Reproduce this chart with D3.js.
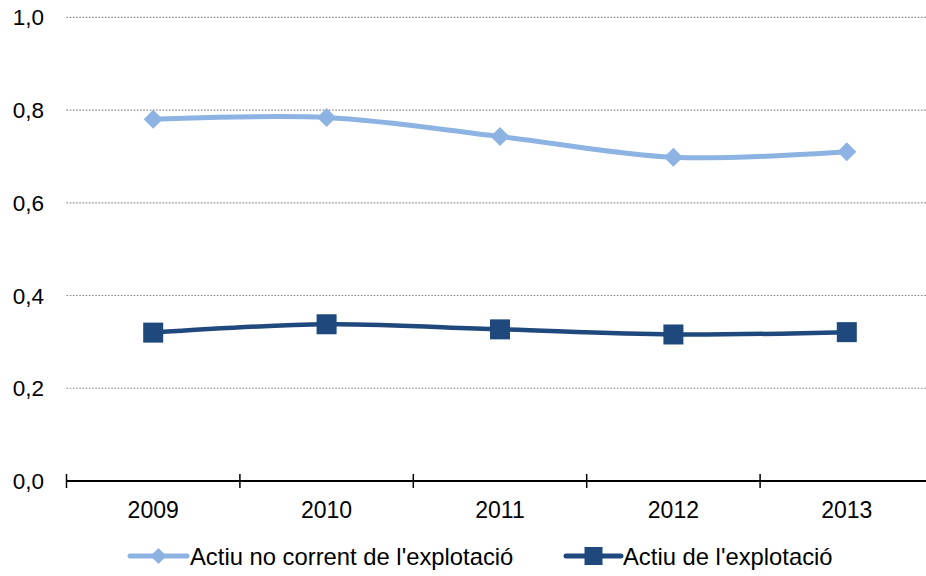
<!DOCTYPE html>
<html>
<head>
<meta charset="utf-8">
<script src="https://cdn.jsdelivr.net/npm/d3@7"></script>
<style>
  html, body { margin: 0; padding: 0; background: #fff; }
  svg { display: block; font-family: "Liberation Sans", Arial, sans-serif; }
</style>
</head>
<body>
<svg id="chart" width="926" height="576"></svg>
<script>
const categories = ["2009", "2010", "2011", "2012", "2013"];
const seriesNames = ["Actiu no corrent de l'explotació", "Actiu de l'explotació"];
const actiuNoCorrent = [0.780, 0.784, 0.743, 0.698, 0.710];
const actiuExplotacio = [0.320, 0.338, 0.327, 0.316, 0.321];
const yTicks = [0, 0.2, 0.4, 0.6, 0.8, 1.0];
const colors = ["#8DB3E2", "#1F497D"];

const svg = d3.select("#chart");
const plotLeft = 66.5, plotRight = 933.5, plotTop = 17.3, plotBottom = 481;

const x = d3.scaleBand().domain(categories).range([plotLeft, plotRight]).paddingInner(0).paddingOuter(0);
const y = d3.scaleLinear().domain([0, 1]).range([plotBottom, plotTop]);
const fmt = v => d3.format(".1f")(v).replace(".", ",");

// gridlines
svg.append("g").selectAll("line").data(yTicks.filter(d => d > 0)).join("line")
  .attr("x1", plotLeft).attr("x2", 926)
  .attr("y1", d => y(d)).attr("y2", d => y(d))
  .attr("stroke", "#8a8a8a").attr("stroke-width", 1.2)
  .attr("stroke-dasharray", "1.6,1.6");

// y labels
svg.append("g").selectAll("text").data(yTicks).join("text")
  .attr("x", 44).attr("y", d => y(d))
  .attr("dy", "0.36em")
  .attr("text-anchor", "end")
  .attr("font-size", 22.5).attr("fill", "#000")
  .text(fmt);

// x axis
const xAxis = svg.append("g").attr("transform", `translate(0,${plotBottom})`);
xAxis.append("line").attr("x1", plotLeft).attr("x2", 926).attr("y1", 0).attr("y2", 0)
  .attr("stroke", "#000").attr("stroke-width", 2);
const boundaries = categories.map(c => x(c));
xAxis.selectAll("line.tick").data(boundaries).join("line").attr("class", "tick")
  .attr("x1", d => d).attr("x2", d => d).attr("y1", -7).attr("y2", 7)
  .attr("stroke", "#000").attr("stroke-width", 1.5);
xAxis.selectAll("text").data(categories).join("text")
  .attr("x", d => x(d) + x.bandwidth() / 2).attr("y", 37)
  .attr("text-anchor", "middle").attr("font-size", 23).attr("fill", "#000")
  .text(d => d);

const line = d3.line()
  .x((d, i) => x(categories[i]) + x.bandwidth() / 2)
  .y(d => y(d))
  .curve(d3.curveCardinal.tension(0));

const diamond = s => `M0,${-s} L${s},0 L0,${s} L${-s},0 Z`;

// series 1
svg.append("path").datum(actiuNoCorrent).attr("d", line)
  .attr("fill", "none").attr("stroke", colors[0]).attr("stroke-width", 5)
  .attr("stroke-linejoin", "round").attr("stroke-linecap", "round");
svg.append("g").selectAll("path").data(actiuNoCorrent).join("path")
  .attr("transform", (d, i) => `translate(${x(categories[i]) + x.bandwidth() / 2},${y(d)})`)
  .attr("d", diamond(9.5)).attr("fill", colors[0]);

// series 2
svg.append("path").datum(actiuExplotacio).attr("d", line)
  .attr("fill", "none").attr("stroke", colors[1]).attr("stroke-width", 4.5)
  .attr("stroke-linejoin", "round").attr("stroke-linecap", "round");
svg.append("g").selectAll("rect").data(actiuExplotacio).join("rect")
  .attr("x", (d, i) => x(categories[i]) + x.bandwidth() / 2 - 10)
  .attr("y", d => y(d) - 10)
  .attr("width", 20).attr("height", 20).attr("fill", colors[1]);

// legend
const legY = 556;
const leg = [
  { name: seriesNames[0], color: colors[0], x0: 130, x1: 187, shape: "diamond", tx: 190 },
  { name: seriesNames[1], color: colors[1], x0: 566, x1: 621, shape: "square", tx: 623 }
];
const lg = svg.append("g");
leg.forEach(l => {
  lg.append("line").attr("x1", l.x0).attr("x2", l.x1).attr("y1", legY).attr("y2", legY)
    .attr("stroke", l.color).attr("stroke-width", 5).attr("stroke-linecap", "round");
  const cx = (l.x0 + l.x1) / 2;
  if (l.shape === "diamond") {
    lg.append("path").attr("transform", `translate(${cx},${legY})`).attr("d", diamond(8)).attr("fill", l.color);
  } else {
    lg.append("rect").attr("x", cx - 9).attr("y", legY - 9).attr("width", 18).attr("height", 18).attr("fill", l.color);
  }
  lg.append("text").attr("x", l.tx).attr("y", legY).attr("dy", "0.36em")
    .attr("font-size", 23.8).attr("fill", "#000").text(l.name);
});
</script>
</body>
</html>
